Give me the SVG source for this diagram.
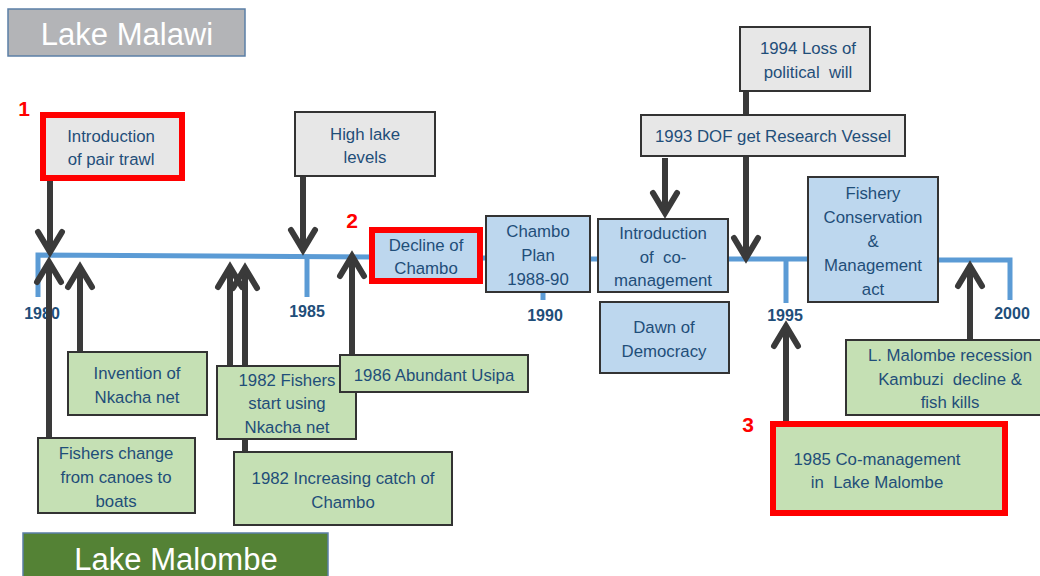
<svg xmlns="http://www.w3.org/2000/svg" width="1040" height="576" viewBox="0 0 1040 576">
<defs>
<style>
.t{font-family:"Liberation Sans",Arial,sans-serif;font-size:16.8px;fill:#1f4e79;text-anchor:middle;white-space:pre}
.yr{font-family:"Liberation Sans",Arial,sans-serif;font-size:16px;font-weight:bold;fill:#1f4e79;text-anchor:middle}
.num{font-family:"Liberation Sans",Arial,sans-serif;font-size:21px;font-weight:bold;fill:#ff0000;text-anchor:middle}
.big{font-family:"Liberation Sans",Arial,sans-serif;font-size:31px;fill:#ffffff;text-anchor:middle}
.gray{fill:#e7e7e7;stroke:#333;stroke-width:2}
.blue{fill:#bdd7ee;stroke:#333;stroke-width:2}
.green{fill:#c5e0b4;stroke:#333;stroke-width:2}
.redb{stroke:#ff0000;stroke-width:6}
.tl{fill:none;stroke:#5b9bd5;stroke-width:5}
.ar{fill:none;stroke:#3a3a3a;stroke-width:6}
</style>
<marker id="head" markerUnits="userSpaceOnUse" viewBox="-26 -18 32 36" markerWidth="32" markerHeight="36" refX="0" refY="0" orient="auto" overflow="visible">
<path d="M-20,-12 L0,0 L-20,12" fill="none" stroke="#3a3a3a" stroke-width="6" stroke-linecap="round" stroke-linejoin="miter"/>
</marker>
</defs>
<rect width="1040" height="576" fill="#ffffff"/>

<g id="timeline">
<polyline class="tl" points="38,297 38,255 372,257"/>
<line class="tl" x1="307" y1="256" x2="307" y2="297"/>
<line class="tl" x1="482" y1="258" x2="488" y2="258"/>
<line class="tl" x1="590" y1="259" x2="599" y2="259"/>
<line class="tl" x1="543" y1="290" x2="543" y2="300"/>
<line class="tl" x1="728" y1="259" x2="810" y2="259"/>
<line class="tl" x1="786" y1="259" x2="786" y2="303"/>
<polyline class="tl" points="937,260 1010,260 1010,300"/>
<text class="yr" x="42" y="319">1980</text>
<text class="yr" x="307" y="317">1985</text>
<text class="yr" x="545" y="321">1990</text>
<text class="yr" x="785" y="321">1995</text>
<text class="yr" x="1012" y="319">2000</text>
</g>

<g id="connectors">
<line class="ar" x1="50" y1="180" x2="50" y2="252" marker-end="url(#head)"/>
<line class="ar" x1="303" y1="176" x2="303" y2="250" marker-end="url(#head)"/>
<line class="ar" x1="665" y1="158" x2="665" y2="213" marker-end="url(#head)"/>
<line class="ar" x1="746" y1="91" x2="746" y2="258" marker-end="url(#head)"/>
<line class="ar" x1="49" y1="440" x2="49" y2="262" marker-end="url(#head)"/>
<line class="ar" x1="80" y1="353" x2="80" y2="267" marker-end="url(#head)"/>
<line class="ar" x1="230" y1="367" x2="230" y2="267" marker-end="url(#head)"/>
<line class="ar" x1="245" y1="453" x2="245" y2="268" marker-end="url(#head)"/>
<line class="ar" x1="352" y1="356" x2="352" y2="256" marker-end="url(#head)"/>
<line class="ar" x1="786" y1="423" x2="786" y2="326" marker-end="url(#head)"/>
<line class="ar" x1="970" y1="341" x2="970" y2="266" marker-end="url(#head)"/>
</g>

<g id="lake-malawi">
<rect x="8" y="9" width="237" height="47" fill="#b3b4b7" stroke="#5b7fa6" stroke-width="1.5"/>
<text class="big" x="127" y="45">Lake Malawi</text>
</g>

<g id="pair-trawl">
<rect class="gray redb" x="43" y="115" width="139" height="63"/>
<text class="num" x="24" y="116">1</text>
<text class="t" x="111" y="142">Introduction</text>
<text class="t" x="111" y="165">of pair trawl</text>
</g>

<g id="high-lake">
<rect class="gray" x="295" y="112" width="140" height="64"/>
<text class="t" x="365" y="140">High lake</text>
<text class="t" x="365" y="163">levels</text>
</g>

<g id="decline-chambo">
<rect class="blue redb" x="372" y="230" width="108" height="51"/>
<text class="num" x="352" y="228">2</text>
<text class="t" x="426" y="251">Decline of</text>
<text class="t" x="426" y="274">Chambo</text>
</g>

<g id="chambo-plan">
<rect class="blue" x="486" y="216" width="104" height="76"/>
<text class="t" x="538" y="237">Chambo</text>
<text class="t" x="538" y="261">Plan</text>
<text class="t" x="538" y="285">1988-90</text>
</g>

<g id="co-management">
<rect class="blue" x="598" y="219" width="130" height="73"/>
<text class="t" x="663" y="239">Introduction</text>
<text class="t" x="663" y="263" xml:space="preserve">of  co-</text>
<text class="t" x="663" y="286">management</text>
</g>

<g id="democracy">
<rect class="blue" x="600" y="302" width="129" height="71"/>
<text class="t" x="664" y="333">Dawn of</text>
<text class="t" x="664" y="357">Democracy</text>
</g>

<g id="loss-political">
<rect class="gray" x="740" y="27" width="130" height="64"/>
<text class="t" x="808" y="54">1994 Loss of</text>
<text class="t" x="808" y="78" xml:space="preserve">political  will</text>
</g>

<g id="research-vessel">
<rect class="gray" x="641" y="115" width="264" height="41"/>
<text class="t" x="773" y="142">1993 DOF get Research Vessel</text>
</g>

<g id="fishery-act">
<rect class="blue" x="808" y="177" width="130" height="125"/>
<text class="t" x="873" y="199">Fishery</text>
<text class="t" x="873" y="223">Conservation</text>
<text class="t" x="873" y="247">&amp;</text>
<text class="t" x="873" y="271">Management</text>
<text class="t" x="873" y="295">act</text>
</g>

<g id="invention-nkacha">
<rect class="green" x="68" y="352" width="139" height="63"/>
<text class="t" x="137" y="379">Invention of</text>
<text class="t" x="137" y="403">Nkacha net</text>
</g>

<g id="fishers-change">
<rect class="green" x="38" y="438" width="157" height="75"/>
<text class="t" x="116" y="459">Fishers change</text>
<text class="t" x="116" y="483">from canoes to</text>
<text class="t" x="116" y="507">boats</text>
</g>

<g id="fishers-1982">
<rect class="green" x="217" y="366" width="139" height="73"/>
<text class="t" x="287" y="386">1982 Fishers</text>
<text class="t" x="287" y="409">start using</text>
<text class="t" x="287" y="433">Nkacha net</text>
</g>

<g id="usipa-1986">
<rect class="green" x="340" y="355" width="188" height="37"/>
<text class="t" x="434" y="381">1986 Abundant Usipa</text>
</g>

<g id="catch-1982">
<rect class="green" x="234" y="452" width="218" height="73"/>
<text class="t" x="343" y="484">1982 Increasing catch of</text>
<text class="t" x="343" y="508">Chambo</text>
</g>

<g id="malombe-recession">
<rect class="green" x="846" y="340" width="196" height="75"/>
<text class="t" x="950" y="361">L. Malombe recession</text>
<text class="t" x="950" y="385" xml:space="preserve">Kambuzi  decline &amp;</text>
<text class="t" x="950" y="408">fish kills</text>
</g>

<g id="comanagement-1985">
<rect class="green redb" x="773" y="424" width="232" height="89"/>
<text class="num" x="748" y="432">3</text>
<text class="t" x="877" y="465">1985 Co-management</text>
<text class="t" x="877" y="488" xml:space="preserve">in  Lake Malombe</text>
</g>

<g id="lake-malombe">
<rect x="23" y="533" width="305" height="50" fill="#548235" stroke="#5b7fa6" stroke-width="1.5"/>
<text class="big" x="176" y="570">Lake Malombe</text>
</g>
</svg>
